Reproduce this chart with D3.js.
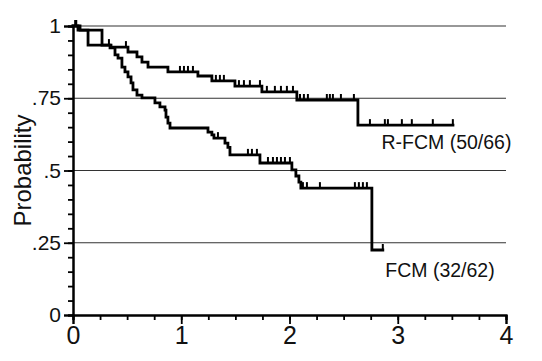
<!DOCTYPE html>
<html><head><meta charset="utf-8">
<script src="https://cdn.jsdelivr.net/npm/d3@7"></script>
<style>
html,body{margin:0;padding:0;background:#fff;}
svg{display:block;font-family:"Liberation Sans",Arial,sans-serif;}
</style></head>
<body>
<svg id="chart" width="542" height="361"></svg>
<script>
// ---- data ----
const xTicks = [0, 1, 2, 3, 4];
const xTickLabels = ["0", "1", "2", "3", "4"];
const yTicks = [0, 0.25, 0.5, 0.75, 1];
const yTickLabels = ["0", ".25", ".5", ".75", "1"];
const gridValues = [0.25, 0.5, 0.75, 1];

const rfcmTimes = [0, 0.046, 0.139, 0.351, 0.508, 0.591, 0.637, 0.693, 0.877, 1.154, 1.283, 1.496, 1.745, 2.068, 2.632];
const rfcmSurv  = [1, 0.986, 0.934, 0.927, 0.910, 0.893, 0.875, 0.858, 0.841, 0.827, 0.810, 0.792, 0.772, 0.744, 0.657];
const rfcmEnd = 3.51;
const rfcmCensor = [0.02, 0.332, 0.489, 0.988, 1.025, 1.062, 1.108, 1.320, 1.357, 1.394, 1.533, 1.579, 1.634, 1.727,
  1.791, 1.865, 1.921, 1.976, 2.032, 2.097, 2.133, 2.170, 2.345, 2.373, 2.401, 2.475, 2.595,
  2.743, 2.881, 2.909, 3.038, 3.130, 3.324, 3.509];

const fcmTimes = [0, 0.065, 0.268, 0.342, 0.388, 0.416, 0.452, 0.480, 0.508, 0.536, 0.554, 0.591, 0.637, 0.757, 0.803,
  0.850, 0.859, 0.877, 0.896, 1.247, 1.283, 1.302, 1.404, 1.431, 1.450, 1.727, 2.022, 2.059, 2.087, 2.105, 2.761];
const fcmSurv  = [1, 0.986, 0.934, 0.924, 0.900, 0.889, 0.858, 0.841, 0.824, 0.803, 0.779, 0.761, 0.751, 0.734, 0.720,
  0.709, 0.685, 0.664, 0.647, 0.633, 0.623, 0.612, 0.595, 0.580, 0.554, 0.526, 0.502, 0.481, 0.460, 0.439, 0.225];
const fcmEnd = 2.862;
const fcmCensor = [0.03, 1.339, 1.616, 1.653, 1.699, 1.801, 1.847, 1.884, 1.921, 1.958, 2.004, 2.124, 2.161, 2.281,
  2.604, 2.641, 2.678, 2.715, 2.862];

const seriesLabels = ["R-FCM (50/66)", "FCM (32/62)"];
const labelPos = [[3.45, 0.574], [3.39, 0.131]];

// ---- drawing ----
const svg = d3.select("#chart");
const x = d3.scaleLinear().domain([0, 4]).range([73, 506]);
const y = d3.scaleLinear().domain([0, 1]).range([315, 26]);

// gridlines
svg.append("g").selectAll("line").data(gridValues).join("line")
  .attr("x1", x(0)).attr("x2", x(4))
  .attr("y1", d => y(d)).attr("y2", d => y(d))
  .attr("stroke", "#333").attr("stroke-width", 1.2);

// axes
const yMinor = svg.append("g").attr("transform", `translate(${x(0)},0)`)
  .call(d3.axisLeft(y).tickValues(d3.range(0, 1.001, 0.05)).tickSize(5).tickFormat(""));
const yMajor = svg.append("g").attr("transform", `translate(${x(0)},0)`)
  .call(d3.axisLeft(y).tickValues(yTicks).tickSize(9).tickPadding(3).tickFormat((d, i) => yTickLabels[i]));
const xMinor = svg.append("g").attr("transform", `translate(0,${y(0)})`)
  .call(d3.axisBottom(x).tickValues(d3.range(0, 4.001, 0.25)).tickSize(5).tickFormat(""));
const xMajor = svg.append("g").attr("transform", `translate(0,${y(0)})`)
  .call(d3.axisBottom(x).tickValues(xTicks).tickSize(9).tickPadding(2).tickFormat((d, i) => xTickLabels[i]));

[yMinor, yMajor, xMinor, xMajor].forEach(g => {
  g.select(".domain").attr("stroke", "#000").attr("stroke-width", 2);
  g.selectAll(".tick line").attr("stroke", "#000").attr("stroke-width", 1.8);
});
yMajor.selectAll("text").attr("font-size", 21).attr("fill", "#111");
xMajor.selectAll("text").attr("font-size", 25).attr("fill", "#111");

// y title
svg.append("text").attr("transform", `translate(31,${y(0.5)}) rotate(-90)`)
  .attr("text-anchor", "middle").attr("font-size", 24).attr("fill", "#111").text("Probability");

// KM curves
function drawKM(times, surv, end, censor) {
  const pts = times.map((t, i) => [t, surv[i]]);
  pts.push([end, surv[surv.length - 1]]);
  svg.append("path").datum(pts)
    .attr("d", d3.line().x(d => x(d[0])).y(d => y(d[1])).curve(d3.curveStepAfter))
    .attr("fill", "none").attr("stroke", "#000").attr("stroke-width", 2.8)
    .attr("stroke-linejoin", "miter").attr("stroke-linecap", "square");
  const sAt = t => { let s = surv[0]; times.forEach((tt, i) => { if (tt <= t) s = surv[i]; }); return s; };
  svg.append("g").selectAll("line").data(censor).join("line")
    .attr("x1", d => x(d)).attr("x2", d => x(d))
    .attr("y1", d => y(sAt(d))).attr("y2", d => y(sAt(d)) - 6)
    .attr("stroke", "#000").attr("stroke-width", 2);
}
drawKM(rfcmTimes, rfcmSurv, rfcmEnd, rfcmCensor);
drawKM(fcmTimes, fcmSurv, fcmEnd, fcmCensor);

// series labels
svg.append("g").selectAll("text").data(seriesLabels).join("text")
  .attr("x", (d, i) => x(labelPos[i][0]))
  .attr("y", (d, i) => y(labelPos[i][1]))
  .attr("text-anchor", "middle").attr("font-size", 19.5).attr("fill", "#111")
  .text(d => d);
</script>
</body></html>
